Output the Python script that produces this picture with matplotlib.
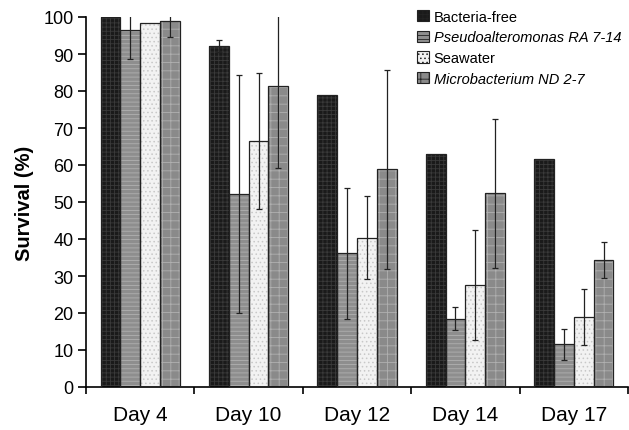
import matplotlib
matplotlib.use('Agg')
import matplotlib.pyplot as plt
import numpy as np

plt.rcParams['font.family'] = ['Liberation Sans', 'DejaVu Sans']
plt.rcParams['hatch.linewidth'] = 0.6

days = ['Day 4', 'Day 10', 'Day 12', 'Day 14', 'Day 17']
groups = ['Bacteria-free', 'Pseudoalteromonas RA 7-14', 'Seawater', 'Microbacterium ND 2-7']

bacteria_free = [100, 92.2, 79.0, 63.1, 61.5]
bacteria_free_err = [0, 1.6, 0, 0, 0]
pseudo = [96.6, 52.2, 36.2, 18.5, 11.5]
pseudo_err = [8.0, 32.2, 17.7, 3.1, 4.2]
seawater = [98.4, 66.5, 40.4, 27.6, 18.9]
seawater_err = [0, 18.5, 11.2, 14.8, 7.5]
micro = [99.0, 81.4, 58.8, 52.3, 34.3]
micro_err = [4.3, 22.2, 27.0, 20.1, 4.9]

values = [bacteria_free, pseudo, seawater, micro]
errors = [bacteria_free_err, pseudo_err, seawater_err, micro_err]
faces = ['#1a1a1a', '#8e8e8e', '#f2f2f2', '#8a8a8a']
hatch_cols = ['#3a3a3a', '#b0b0b0', '#c8c8c8', '#b0b0b0']
hatches = ['++++', '----', '....', '++']

fig = plt.figure(figsize=(6.29, 4.31), dpi=100)
ax = fig.add_axes([86/629, 43/431, 542/629, 370/431])

x = np.arange(len(days))
w = 0.183
handles = []
for i in range(4):
    pos = x + (i - 1.5) * w
    ax.bar(pos, values[i], w, color=faces[i], edgecolor=hatch_cols[i],
           hatch=hatches[i], linewidth=0, zorder=2)
    ax.bar(pos, values[i], w, fill=False, edgecolor='#222222', linewidth=0.9, zorder=3)
    err = np.array(errors[i], dtype=float)
    mask = err > 0
    ax.errorbar(pos[mask], np.array(values[i])[mask], yerr=err[mask], fmt='none',
                ecolor='#222222', elinewidth=0.9, capsize=2.5, capthick=0.9, zorder=4)
    handles.append(plt.Rectangle((0, 0), 1, 1, facecolor=faces[i], edgecolor='#222222',
                                 hatch=hatches[i], linewidth=0.8))

ax.set_xlim(-0.5, 4.5)
ax.set_ylim(0, 100)
ax.set_yticks(range(0, 101, 10))
ax.set_xticks(x)
ax.set_xticklabels(days, fontsize=15)
ax.set_xticks(np.arange(-0.5, 5, 1), minor=True)
ax.tick_params(axis='x', which='major', length=0, pad=13)
ax.tick_params(axis='x', which='minor', length=5, width=1.2)
ax.tick_params(axis='y', labelsize=13, length=6, width=1.2, pad=3)
ax.set_ylabel('Survival (%)', fontsize=14.5, fontweight='bold', labelpad=7)
for s in ['top', 'right']:
    ax.spines[s].set_visible(False)
for s in ['left', 'bottom']:
    ax.spines[s].set_linewidth(1.2)

leg = ax.legend(handles, groups, loc='upper left', bbox_to_anchor=(0.6, 1.035),
                frameon=False, fontsize=10.5, handlelength=0.8, handleheight=0.8,
                handletextpad=0.35, labelspacing=0.45, borderaxespad=0)
for t in leg.get_texts():
    if t.get_text() in ('Pseudoalteromonas RA 7-14', 'Microbacterium ND 2-7'):
        t.set_fontstyle('italic')

fig.savefig('out.png', dpi=100)
